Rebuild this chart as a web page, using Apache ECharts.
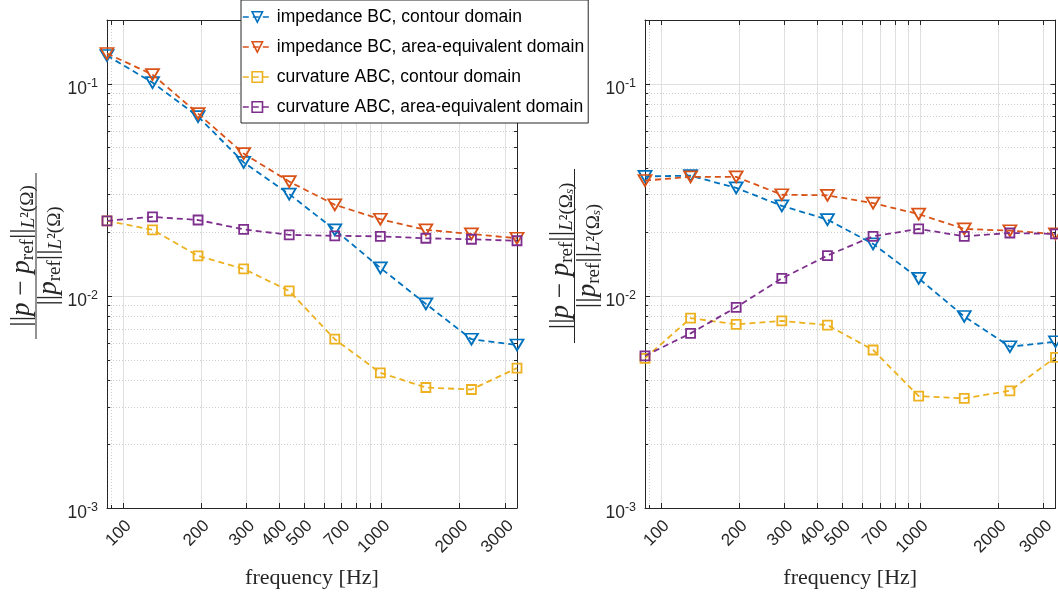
<!DOCTYPE html>
<html>
<head>
<meta charset="utf-8">
<script src="https://cdn.jsdelivr.net/npm/echarts@6/dist/echarts.min.js"></script>
<style>
  html, body { margin: 0; padding: 0; background: #ffffff; }
  #chart { width: 1058px; height: 594px; }
</style>
</head>
<body>
<div id="chart"></div>
<script>
// Excitation frequencies (Hz)
const freqHz = [86.7, 130, 195, 292.6, 438.9, 658.4, 987.6, 1481, 2222, 3333];

// Relative L2 error over the whole domain Omega
const errImpContour  = [0.136, 0.1014, 0.0701, 0.0426, 0.0302, 0.0205, 0.01356, 0.00917, 0.00625, 0.00587];
const errImpArea     = [0.139, 0.1106, 0.0724, 0.0469, 0.0346, 0.0269, 0.0230, 0.0205, 0.0196, 0.0187];
const errCurvContour = [0.0226, 0.0205, 0.01545, 0.01341, 0.01056, 0.00625, 0.00434, 0.0037, 0.00362, 0.00457];
const errCurvArea    = [0.0226, 0.0236, 0.0228, 0.0206, 0.0194, 0.0192, 0.0191, 0.0187, 0.0185, 0.0182];

// Relative L2 error over the sub-domain Omega_s
const errSImpContour  = [0.0366, 0.0369, 0.0323, 0.0266, 0.0229, 0.0176, 0.0121, 0.0080, 0.00576, 0.00608];
const errSImpArea     = [0.0350, 0.0364, 0.0364, 0.0300, 0.0298, 0.0274, 0.0243, 0.0207, 0.0203, 0.0196];
const errSCurvContour = [0.00508, 0.00785, 0.00735, 0.00762, 0.00729, 0.00556, 0.00337, 0.00329, 0.00357, 0.00513];
const errSCurvArea    = [0.00522, 0.00666, 0.00884, 0.0121, 0.0155, 0.0191, 0.0207, 0.0191, 0.0198, 0.0196];

const seriesNames = [
  'impedance BC, contour domain',
  'impedance BC, area-equivalent domain',
  'curvature ABC, contour domain',
  'curvature ABC, area-equivalent domain'
];

// Tick positions
const xTickValues  = [100, 200, 300, 400, 500, 600, 700, 800, 900, 1000, 2000, 3000];
const xLabelValues = [100, 200, 300, 400, 500, 700, 1000, 2000, 3000];
const xMinorValues = [90];
const yMajorValues = [0.001, 0.01, 0.1];
const yMinorValues = [0.002, 0.003, 0.004, 0.005, 0.006, 0.007, 0.008, 0.009,
                      0.02, 0.03, 0.04, 0.05, 0.06, 0.07, 0.08, 0.09, 0.2];
const yMin = 0.001, yMax = 0.2;

const xLabelText = 'frequency [Hz]';

// ---- styling ----
const AX = '#262626';
const GRID_MAJOR = '#e0e0e0';
const GRID_MINOR = '#cdcdcd';
const SANS = '"Liberation Sans", Arial, Helvetica, sans-serif';
const SERIF = '"Liberation Serif", "Times New Roman", serif';
const COLORS = ['#0072BD', '#D95319', '#EDB120', '#7E2F8E'];
const MARKERS = [
  { symbol: 'triangle', size: [13, 11], rotate: 180 },
  { symbol: 'triangle', size: [13, 11], rotate: 180 },
  { symbol: 'rect', size: 9, rotate: 0 },
  { symbol: 'rect', size: 9, rotate: 0 }
];

const panels = [
  { grid: { left: 107, top: 20, width: 410, height: 488 },
    values: [errImpContour, errImpArea, errCurvContour, errCurvArea] },
  { grid: { left: 645, top: 20, width: 410.5, height: 488 },
    values: [errSImpContour, errSImpArea, errSCurvContour, errSCurvArea] }
];

const grids = [], xAxes = [], yAxes = [], series = [];

panels.forEach((p, gi) => {
  grids.push(Object.assign({ outerBoundsMode: 'none', containLabel: false }, p.grid));

  const xb = xAxes.length, yb = yAxes.length;
  const xBase = { type: 'log', logBase: 10, gridIndex: gi, min: freqHz[0], max: freqHz[freqHz.length - 1] };
  const yBase = { type: 'log', logBase: 10, gridIndex: gi, min: yMin, max: yMax };
  const axisLine = { show: true, onZero: false, lineStyle: { color: AX, width: 1 } };
  const noLine = { show: false, onZero: false };

  // bottom: labels, major ticks, solid grid
  xAxes.push(Object.assign({}, xBase, {
    position: 'bottom',
    axisLine: axisLine,
    axisTick: { show: true, inside: true, length: 5, customValues: xTickValues, lineStyle: { color: AX } },
    axisLabel: {
      show: true, customValues: xLabelValues, rotate: 45, margin: 21, padding: [0, -8, 0, 0],
      fontFamily: SANS, fontSize: 17, color: AX,
      formatter: v => String(Math.round(v))
    },
    splitLine: { show: true, lineStyle: { color: GRID_MAJOR, width: 1 } },
    name: xLabelText, nameLocation: 'middle', nameGap: 59,
    nameTextStyle: { fontFamily: SERIF, fontSize: 22, color: AX }
  }));
  // bottom: minor ticks, dotted grid
  xAxes.push(Object.assign({}, xBase, {
    position: 'bottom', axisLine: noLine,
    axisTick: { show: true, inside: true, length: 3, customValues: xMinorValues, lineStyle: { color: AX } },
    axisLabel: { show: false },
    splitLine: { show: true, lineStyle: { color: GRID_MINOR, width: 1, type: [1, 2] } }
  }));
  // top edge of the box
  xAxes.push(Object.assign({}, xBase, {
    position: 'top', axisLine: axisLine,
    axisTick: { show: true, inside: true, length: 5, customValues: xTickValues.concat(xMinorValues), lineStyle: { color: AX } },
    axisLabel: { show: false }, splitLine: { show: false }
  }));

  // left: labels, major ticks, solid grid
  yAxes.push(Object.assign({}, yBase, {
    position: 'left', axisLine: axisLine,
    axisTick: { show: true, inside: true, length: 5, customValues: yMajorValues, lineStyle: { color: AX } },
    axisLabel: {
      show: true, customValues: yMajorValues, margin: 9, padding: [10, 0, 0, 0],
      formatter: v => '{b|10}{s|' + Math.round(Math.log10(v)) + '}',
      rich: {
        b: { fontFamily: SANS, fontSize: 17.5, color: AX, lineHeight: 24 },
        s: { fontFamily: SANS, fontSize: 12.5, color: AX, lineHeight: 13, verticalAlign: 'top' }
      }
    },
    splitLine: { show: true, lineStyle: { color: GRID_MAJOR, width: 1 } }
  }));
  // left: minor ticks, dotted grid
  yAxes.push(Object.assign({}, yBase, {
    position: 'left', axisLine: noLine,
    axisTick: { show: true, inside: true, length: 3, customValues: yMinorValues, lineStyle: { color: AX } },
    axisLabel: { show: false },
    splitLine: { show: true, lineStyle: { color: GRID_MINOR, width: 1, type: [1, 2] } }
  }));
  // right edge of the box
  yAxes.push(Object.assign({}, yBase, {
    position: 'right', axisLine: axisLine,
    axisTick: { show: true, inside: true, length: 5, customValues: yMajorValues, lineStyle: { color: AX } },
    axisLabel: { show: false }, splitLine: { show: false }
  }));
  yAxes.push(Object.assign({}, yBase, {
    position: 'right', axisLine: noLine,
    axisTick: { show: true, inside: true, length: 3, customValues: yMinorValues, lineStyle: { color: AX } },
    axisLabel: { show: false }, splitLine: { show: false }
  }));

  p.values.forEach((vals, si) => {
    const m = MARKERS[si];
    series.push({
      type: 'line',
      name: seriesNames[si],
      xAxisIndex: xb,
      yAxisIndex: yb,
      data: freqHz.map((f, i) => [f, vals[i]]),
      symbol: m.symbol,
      symbolSize: m.size,
      symbolRotate: m.rotate,
      showAllSymbol: true,
      clip: false,
      z: 3 + si,
      lineStyle: { color: COLORS[si], width: 1.8, type: [6, 4] },
      itemStyle: { color: 'transparent', borderColor: COLORS[si], borderWidth: 1.8 },
      emphasis: { disabled: true }
    });
  });
});

// y-axis titles: ||p - p_ref|| / ||p_ref|| as a stacked fraction
const RICH = {
  n:  { fontFamily: SERIF, fontSize: 27, lineHeight: 32, fill: AX },
  i:  { fontFamily: SERIF, fontSize: 27, lineHeight: 32, fontStyle: 'italic', fill: AX },
  s:  { fontFamily: SERIF, fontSize: 19, lineHeight: 20, verticalAlign: 'bottom', fill: AX },
  si: { fontFamily: SERIF, fontSize: 19, lineHeight: 20, verticalAlign: 'bottom', fontStyle: 'italic', fill: AX },
  sx: { fontFamily: SERIF, fontSize: 13, lineHeight: 11, verticalAlign: 'bottom', fontStyle: 'italic', fill: AX }
};
const numWhole = '{n|||}{i|p}{n| − }{i|p}{s|ref}{n|||}{si|L}{s|²(Ω)}';
const denWhole = '{n|||}{i|p}{s|ref}{n|||}{si|L}{s|²(Ω)}';
const numSub   = '{n|||}{i|p}{n| − }{i|p}{s|ref}{n|||}{si|L}{s|²(Ω}{sx|s}{s|)}';
const denSub   = '{n|||}{i|p}{s|ref}{n|||}{si|L}{s|²(Ω}{sx|s}{s|)}';

function fraction(cx, cy, num, den, barLen) {
  return {
    type: 'group', x: cx, y: cy, rotation: Math.PI / 2, silent: true,
    children: [
      { type: 'text', x: 0, y: -14, style: { text: num, rich: RICH, align: 'center', verticalAlign: 'middle' } },
      { type: 'line', shape: { x1: -barLen / 2, y1: 0, x2: barLen / 2, y2: 0 }, style: { stroke: AX, lineWidth: 1 } },
      { type: 'text', x: 0, y: 13, style: { text: den, rich: RICH, align: 'center', verticalAlign: 'middle' } }
    ]
  };
}

const chart = echarts.init(document.getElementById('chart'), null, { renderer: 'canvas' });
chart.setOption({
  animation: false,
  backgroundColor: '#ffffff',
  grid: grids,
  xAxis: xAxes,
  yAxis: yAxes,
  series: series,
  legend: {
    data: seriesNames,
    orient: 'vertical',
    left: 241, top: 0,
    padding: [7, 4, 6, 1],
    itemWidth: 29, itemHeight: 13, itemGap: 10,
    backgroundColor: '#ffffff',
    borderColor: AX, borderWidth: 1, borderRadius: 0,
    textStyle: { fontFamily: SANS, fontSize: 17.5, color: '#000000', lineHeight: 20 },
    itemStyle: { borderWidth: 1.6 },
    lineStyle: { width: 1.6 },
    selectedMode: false,
    z: 10
  },
  graphic: [
    fraction(36, 256, numWhole, denWhole, 166),
    fraction(574.5, 256, numSub, denSub, 174)
  ]
});
</script>
</body>
</html>
